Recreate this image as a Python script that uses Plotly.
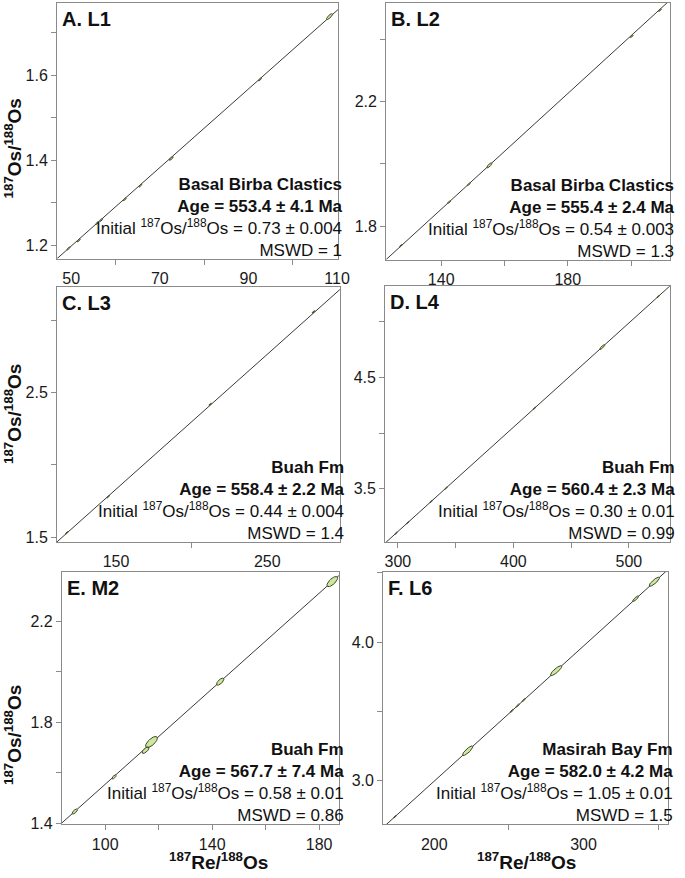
import numpy as np
import plotly.graph_objects as go

# ---------------- data ----------------
panel_labels = ["A. L1", "B. L2", "C. L3", "D. L4", "E. M2", "F. L6"]
units = ["Basal Birba Clastics", "Basal Birba Clastics", "Buah Fm", "Buah Fm", "Buah Fm", "Masirah Bay Fm"]
ages = ["553.4 ± 4.1", "555.4 ± 2.4", "558.4 ± 2.2", "560.4 ± 2.3", "567.7 ± 7.4", "582.0 ± 4.2"]
initials = ["0.73 ± 0.004", "0.54 ± 0.003", "0.44 ± 0.004", "0.30 ± 0.01", "0.58 ± 0.01", "1.05 ± 0.01"]
mswd = ["1", "1.3", "1.4", "0.99", "0.86", "1.5"]

# 187Re/188Os (x), 187Os/188Os (y), 2-sigma uncertainties
A_re = [49.4, 51.7, 55.9, 56.8, 62.1, 65.6, 72.6, 92.6, 108.3]
A_os = [1.192, 1.211, 1.252, 1.259, 1.308, 1.340, 1.404, 1.590, 1.738]
A_ere = [0.35, 0.35, 0.35, 0.35, 0.35, 0.35, 0.45, 0.35, 0.7]
A_eos = [0.0035, 0.0035, 0.0035, 0.0035, 0.0035, 0.0035, 0.0045, 0.0035, 0.007]

B_re = [127.3, 142.5, 148.7, 155.2, 200.2, 209.1]
B_os = [1.737, 1.877, 1.934, 1.995, 2.410, 2.494]
B_ere = [0.45, 0.45, 0.45, 0.8, 0.45, 0.45]
B_eos = [0.0045, 0.0045, 0.0045, 0.008, 0.0045, 0.0045]

C_re = [117.5, 144.8, 212.3, 280.5]
C_os = [1.530, 1.780, 2.420, 3.060]
C_ere = [0.9, 0.9, 0.9, 0.9]
C_eos = [0.009, 0.009, 0.009, 0.009]

D_re = [298.3, 308.5, 328.9, 341.7, 418.3, 477.0, 525.5]
D_os = [3.098, 3.194, 3.385, 3.505, 4.224, 4.774, 5.229]
D_ere = [1.1, 1.1, 1.1, 1.1, 1.1, 2.2, 1.1]
D_eos = [0.011, 0.011, 0.011, 0.011, 0.011, 0.022, 0.011]

E_re = [88.6, 103.3, 115.1, 117.3, 143.0, 184.9]
E_os = [1.447, 1.584, 1.690, 1.722, 1.961, 2.357]
E_ere = [1.0, 0.8, 1.3, 2.2, 1.4, 2.0]
E_eos = [0.010, 0.008, 0.013, 0.022, 0.014, 0.020]

F_re = [173.7, 222.4, 252.0, 255.9, 259.9, 281.6, 334.9, 347.4]
F_os = [2.742, 3.217, 3.505, 3.543, 3.582, 3.794, 4.313, 4.435]
F_ere = [0.9, 3.5, 1.1, 1.1, 1.1, 3.8, 2.0, 3.5]
F_eos = [0.009, 0.035, 0.011, 0.011, 0.011, 0.036, 0.020, 0.033]

error_corr = [0.8, 0.8, 0.8, 0.85, 0.7, 0.85]

# isochron fits (slope, intercept)
iso_slope = [0.00925, 0.00930, 0.00935, 0.00938, 0.00945, 0.00974]
iso_intercept = [0.735, 0.552, 0.429, 0.300, 0.610, 1.050]

# axis ranges
x_ranges = [[46.8, 110.2], [122.6, 212.3], [111.0, 298.0], [289.0, 535.7], [83.8, 187.4], [165.8, 356.6]]
y_ranges = [[1.168, 1.770], [1.692, 2.517], [1.466, 3.230], [3.020, 5.320], [1.396, 2.396], [2.686, 4.507]]

# tick labels and unlabelled ticks
x_labels = [[50, 70, 90, 110], [140, 180], [150, 250], [300, 400, 500], [100, 140, 180], [200, 300]]
x_minor = [[60, 80, 100], [160, 200], [200, 300], [350, 450], [120, 160], [250, 350]]
y_labels = [[1.2, 1.4, 1.6], [1.8, 2.2], [1.5, 2.5], [3.5, 4.5], [1.4, 1.8, 2.2], [3.0, 4.0]]
y_minor = [[1.3, 1.5, 1.7], [2.0, 2.4], [2.0, 3.0], [4.0, 5.0], [1.6, 2.0], [3.5, 4.5]]
y_label_text = [["1.2", "1.4", "1.6"], ["1.8", "2.2"], ["1.5", "2.5"], ["3.5", "4.5"],
                ["1.4", "1.8", "2.2"], ["3.0", "4.0"]]

# ---------------- layout geometry (pixels) ----------------
W, H = 685, 878
boxes = [  # left, right, top, bottom
    (58, 344, 3, 261),
    (393, 682, 3, 262),
    (58, 346, 290, 547),
    (392, 682, 289, 547),
    (63, 345, 577, 832),
    (390, 680, 577, 832),
]
# whether the labelled ticks show a mark
x_label_marks = [False, True, False, True, True, False]

FONT = "Liberation Sans, Arial, Helvetica, sans-serif"
FRAME = "#8a8a8a"

all_re = [A_re, B_re, C_re, D_re, E_re, F_re]
all_os = [A_os, B_os, C_os, D_os, E_os, F_os]
all_ere = [A_ere, B_ere, C_ere, D_ere, E_ere, F_ere]
all_eos = [A_eos, B_eos, C_eos, D_eos, E_eos, F_eos]


def ellipses(xs, ys, exs, eys, rho):
    t = np.linspace(0, 2 * np.pi, 40)
    ox, oy = [], []
    for x, y, sx, sy in zip(xs, ys, exs, eys):
        ex = x + sx * np.cos(t)
        ey = y + sy * (rho * np.cos(t) + np.sqrt(1 - rho ** 2) * np.sin(t))
        ox += list(ex) + [None]
        oy += list(ey) + [None]
    return ox, oy


fig = go.Figure()
layout = dict(width=W, height=H, margin=dict(l=0, r=0, t=0, b=0),
              paper_bgcolor="white", plot_bgcolor="white", showlegend=False,
              font=dict(family=FONT, color="#1a1a1a"))
annotations = []

for i in range(6):
    l, r, t, b = boxes[i]
    xa = "x" if i == 0 else f"x{i + 1}"
    ya = "y" if i == 0 else f"y{i + 1}"
    xkey = "xaxis" if i == 0 else f"xaxis{i + 1}"
    ykey = "yaxis" if i == 0 else f"yaxis{i + 1}"

    # isochron line
    x0, x1 = x_ranges[i]
    lx = [x0, x1]
    ly = [iso_intercept[i] + iso_slope[i] * v for v in lx]
    fig.add_trace(go.Scatter(x=lx, y=ly, mode="lines", line=dict(color="#3a3a3a", width=1),
                             xaxis=xa, yaxis=ya, hoverinfo="skip"))
    # ellipses
    ex, ey = ellipses(all_re[i], all_os[i], all_ere[i], all_eos[i], error_corr[i])
    fig.add_trace(go.Scatter(x=ex, y=ey, mode="lines", fill="toself",
                             fillcolor="#cfe6a3", line=dict(color="#3b4d22", width=1),
                             xaxis=xa, yaxis=ya, hoverinfo="skip"))

    layout[xkey] = dict(
        domain=[l / W, r / W], anchor=ya, range=x_ranges[i],
        showline=True, mirror=True, linecolor=FRAME, linewidth=1,
        showgrid=False, zeroline=False,
        tickmode="array", tickvals=x_labels[i], ticktext=[str(v) for v in x_labels[i]],
        ticks="outside", ticklen=5, tickwidth=1,
        tickcolor=FRAME if x_label_marks[i] else "rgba(0,0,0,0)",
        tickfont=dict(size=16, color="#1a1a1a", family=FONT),
        minor=dict(tickmode="array", tickvals=x_minor[i], ticks="outside", ticklen=5,
                   tickwidth=1, tickcolor=FRAME, showgrid=False),
    )
    layout[ykey] = dict(
        domain=[1 - b / H, 1 - t / H], anchor=xa, range=y_ranges[i],
        showline=True, mirror=True, linecolor=FRAME, linewidth=1,
        showgrid=False, zeroline=False,
        tickmode="array", tickvals=y_labels[i], ticktext=y_label_text[i],
        ticks="outside", ticklen=5, tickwidth=1, tickcolor=FRAME,
        tickfont=dict(size=16, color="#1a1a1a", family=FONT),
        minor=dict(tickmode="array", tickvals=y_minor[i], ticks="outside", ticklen=5,
                   tickwidth=1, tickcolor=FRAME, showgrid=False),
    )

    # panel label
    annotations.append(dict(xref="paper", yref="paper", x=(l + 3) / W, y=1 - (t + 3) / H,
                            xanchor="left", yanchor="top", showarrow=False,
                            text=f"<b>{panel_labels[i]}</b>",
                            font=dict(size=20, family=FONT, color="#111")))
    # result block
    txt = (f"<b>{units[i]}</b><br><b>Age = {ages[i]} Ma</b><br>"
           f"Initial <sup>187</sup>Os/<sup>188</sup>Os = {initials[i]}<br>MSWD = {mswd[i]}")
    annotations.append(dict(xref="paper", yref="paper", x=(r + 7) / W, y=1 - (b + 3) / H,
                            xanchor="right", yanchor="bottom", align="right", showarrow=False,
                            text=txt, font=dict(size=17, family=FONT, color="#111")))

# axis titles
ytitle = "<b><sup>187</sup>Os/<sup>188</sup>Os</b>"
for yc in [150, 418, 742]:
    annotations.append(dict(xref="paper", yref="paper", x=13 / W, y=1 - yc / H, textangle=-90,
                            xanchor="center", yanchor="middle", showarrow=False, text=ytitle,
                            font=dict(size=19, family=FONT, color="#111")))
xtitle = "<b><sup>187</sup>Re/<sup>188</sup>Os</b>"
for xc in [222, 536]:
    annotations.append(dict(xref="paper", yref="paper", x=xc / W, y=1 - 869 / H,
                            xanchor="center", yanchor="middle", showarrow=False, text=xtitle,
                            font=dict(size=19, family=FONT, color="#111")))

layout["annotations"] = annotations
fig.update_layout(**layout)
fig.write_html("out.html")
